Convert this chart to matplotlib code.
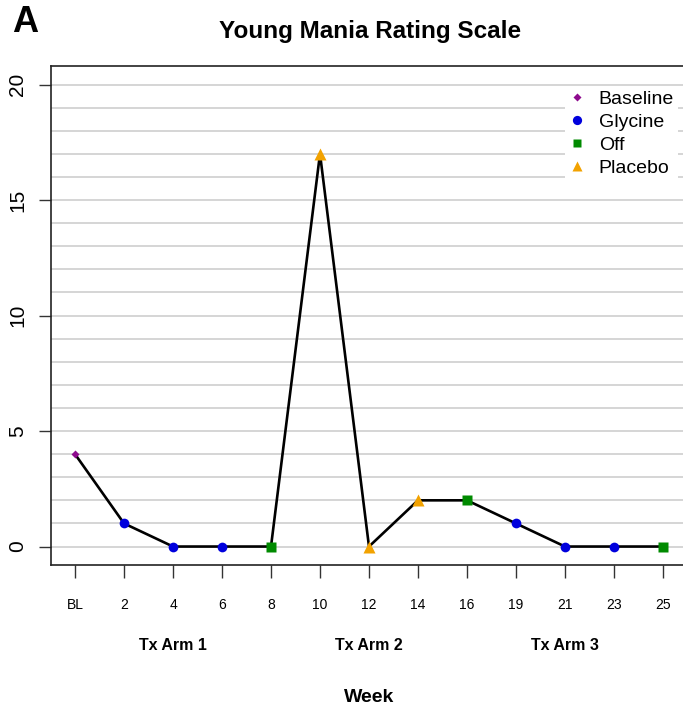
import matplotlib
matplotlib.use("Agg")
import matplotlib.pyplot as plt
from matplotlib.lines import Line2D
from matplotlib.ticker import MultipleLocator
from matplotlib.transforms import blended_transform_factory

plt.rcParams['font.family'] = ['Liberation Sans', 'DejaVu Sans']

# YMRS score per study visit
weeks = ["BL", "2", "4", "6", "8", "10", "12", "14", "16", "19", "21", "23", "25"]
scores = [4, 1, 0, 0, 0, 17, 0, 2, 2, 1, 0, 0, 0]
phase = ["Baseline", "Glycine", "Glycine", "Glycine", "Off", "Placebo", "Placebo",
         "Placebo", "Off", "Glycine", "Glycine", "Glycine", "Off"]

arm_labels = ["Tx Arm 1", "Tx Arm 2", "Tx Arm 3"]
arm_weeks = ["4", "12", "21"]

phase_order = ["Baseline", "Glycine", "Off", "Placebo"]
phase_color = {"Baseline": "#8E0B8E", "Glycine": "#0000DD",
               "Off": "#008A00", "Placebo": "#F2A200"}
phase_marker = {"Baseline": "D", "Glycine": "o", "Off": "s", "Placebo": "^"}
phase_size = {"Baseline": 4.5, "Glycine": 7, "Off": 6.5, "Placebo": 8}

fig = plt.figure(figsize=(6.83, 7.10), dpi=100)
ax = fig.add_axes([0.0754, 0.2042, 0.9297, 0.7028])

xs = list(range(1, len(weeks) + 1))
ax.set_xlim(0.52, len(weeks) + 0.48)
ax.set_ylim(-0.8, 20.8)

# light horizontal rules at every point
ax.yaxis.set_minor_locator(MultipleLocator(1))
ax.set_yticks([0, 5, 10, 15, 20])
ax.grid(axis='y', which='both', color='#d2d2d2', lw=1.3, zorder=0)
ax.set_axisbelow(True)

ax.plot(xs, scores, color='black', lw=1.9, zorder=2)
for x, y, p in zip(xs, scores, phase):
    ax.plot(x, y, marker=phase_marker[p], color=phase_color[p],
            ms=phase_size[p], mec='none', ls='none', zorder=3)

ax.set_xticks(xs)
ax.set_xticklabels(weeks)
ax.tick_params(axis='x', which='major', length=9, width=1, pad=15, labelsize=10,
               color='#333333')
ax.tick_params(axis='y', which='major', length=9, width=1, pad=8.5, labelsize=15,
               color='#333333')
ax.tick_params(axis='y', which='minor', length=0)
for lab in ax.get_yticklabels():
    lab.set_rotation(90)
    lab.set_va('center')
for s in ax.spines.values():
    s.set_color('#222222')
    s.set_linewidth(1.2)

trans = blended_transform_factory(ax.transData, fig.transFigure)
for lab, w in zip(arm_labels, arm_weeks):
    ax.text(weeks.index(w) + 1, 0.0915, lab, transform=trans, ha='center',
            va='center', fontsize=11.5, fontweight='bold')
ax.text(weeks.index("12") + 1, 0.0183, "Week", transform=trans, ha='center',
        va='center', fontsize=14, fontweight='bold')

fig.text(0.5417, 0.9563, "Young Mania Rating Scale", ha='center', va='center',
         fontsize=17.5, fontweight='bold')
fig.text(0.0373, 0.968, "A", ha='center', va='center', fontsize=26, fontweight='bold')

handles = [Line2D([], [], marker=phase_marker[p], color=phase_color[p], ls='none',
                  ms=phase_size[p] * 0.95, mec='none') for p in phase_order]
leg = ax.legend(handles, phase_order, loc='upper right',
                bbox_to_anchor=(678 / 683, 1 - 86 / 710), bbox_transform=fig.transFigure,
                fontsize=14, frameon=True, fancybox=False, handlelength=0.8,
                handletextpad=0.75, labelspacing=0.28, borderpad=0.2,
                borderaxespad=0)
leg.get_frame().set_facecolor('white')
leg.get_frame().set_edgecolor('none')
leg.get_frame().set_alpha(1)

fig.savefig("out.png", dpi=100)
